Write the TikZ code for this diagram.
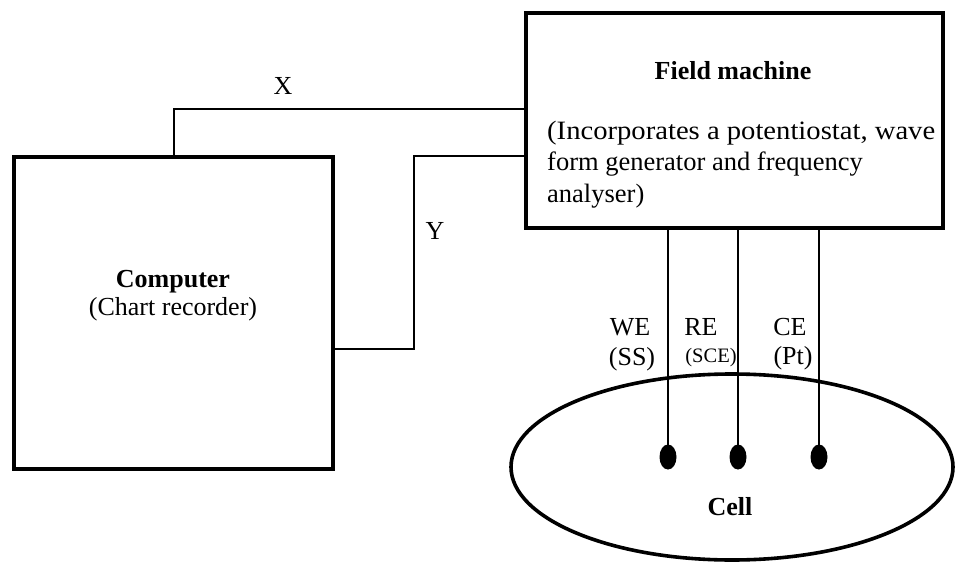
\documentclass[tikz,border=0pt]{standalone}
\usepackage{fontspec}
\setmainfont{Liberation Serif}
\usetikzlibrary{shapes.geometric}
\begin{document}
\begin{tikzpicture}[x=1pt,y=-1pt,
  box/.style={draw,line width=3.6pt,inner sep=0,outer sep=0},
  wire/.style={line width=1.8pt},
  lbl/.style={inner sep=0,anchor=base,font=\fontsize{26}{31}\selectfont},
  lblsmall/.style={inner sep=0,anchor=base,font=\fontsize{20.5}{24}\selectfont},
  lblleft/.style={inner sep=0,anchor=base west,font=\fontsize{26.5}{31}\selectfont},
  edot/.style={ellipse,fill=black,inner sep=0,outer sep=0,minimum width=17pt,minimum height=25pt},
  cellshape/.style={draw,ellipse,line width=3.6pt,inner sep=0,outer sep=0,minimum width=442pt,minimum height=186pt}]
\useasboundingbox (0,0) rectangle (955,564);
% boxes
\node[box,minimum width=319pt,minimum height=312pt] (comp) at (173.5,313) {};
\node[box,minimum width=417pt,minimum height=215pt] (fm) at (734.5,120.5) {};
\node[cellshape] (cell) at (732,467) {};
% texts
\node[lbl] (compt) at (173,287) {\bfseries Computer};
\node[lbl] (compr) at (173,315) {(Chart recorder)};
\node[lbl] (fmt) at (733,80) {\bfseries Field machine};
\node[lblleft] (fm1) at (547,140) {\resizebox{388pt}{\height}{(Incorporates a potentiostat, wave}};
\node[lblleft] (fm2) at (547,171) {form generator and frequency};
\node[lblleft] (fm3) at (547,202) {analyser)};
\node[lbl] (xl) at (283,95) {X};
\node[lbl] (yl) at (435,239) {Y};
\node[lbl] (we) at (630,335) {WE};
\node[lbl] (ss) at (632,365) {(SS)};
\node[lbl] (re) at (701,335) {RE};
\node[lblsmall] (sce) at (711,362) {(SCE)};
\node[lbl] (ce) at (790,335) {CE};
\node[lbl] (pt) at (793,364) {(Pt)};
\node[lbl] (cellt) at (730,515) {\bfseries Cell};
% electrode dots
\node[edot] (d1) at (668,457) {};
\node[edot] (d2) at (738,457) {};
\node[edot] (d3) at (819,457) {};
% connectors
\draw[wire] ([xshift=160pt]comp.north west) |- ([yshift=-96pt]fm.north west);
\coordinate (ybend) at (414,349);
\draw[wire] ([yshift=-143pt]fm.north west) -| (ybend) -- (comp.east |- ybend);
\draw[wire] (fm.south -| d1) -- (d1);
\draw[wire] (fm.south -| d2) -- (d2);
\draw[wire] (fm.south -| d3) -- (d3);
\end{tikzpicture}
\end{document}
